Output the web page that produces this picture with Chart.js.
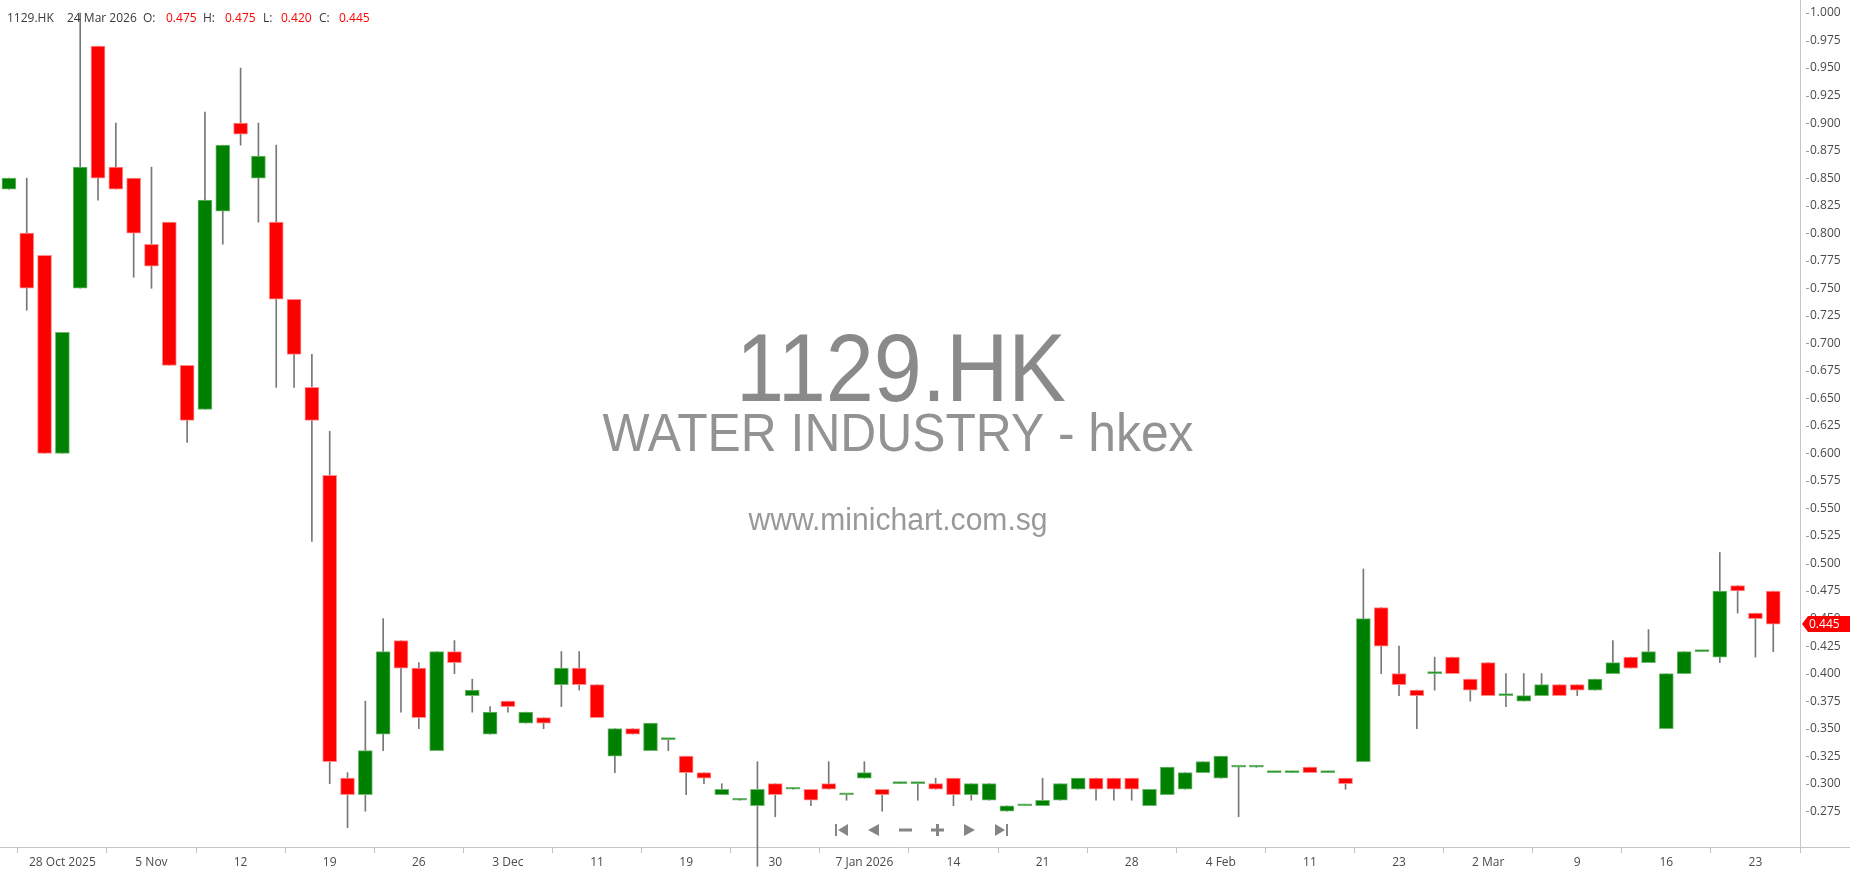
<!DOCTYPE html>
<html>
<head>
<meta charset="utf-8">
<title>1129.HK</title>
<script src="https://cdn.jsdelivr.net/npm/chart.js@4.4.1/dist/chart.umd.min.js"></script>
<style>
html,body{margin:0;padding:0;background:#ffffff;overflow:hidden;}
#wrap{position:relative;width:1850px;height:874px;}
</style>
</head>
<body>
<div id="wrap"><canvas id="c"></canvas></div>
<script>
// ---------- data ----------
const symbol = '1129.HK';
const company = 'WATER INDUSTRY - hkex';
const site = 'www.minichart.com.sg';

const dates = [
 '23 Oct 2025','24 Oct 2025','27 Oct 2025','28 Oct 2025','30 Oct 2025','31 Oct 2025',
 '3 Nov 2025','4 Nov 2025','5 Nov 2025','6 Nov 2025','7 Nov 2025','10 Nov 2025','11 Nov 2025','12 Nov 2025',
 '13 Nov 2025','14 Nov 2025','17 Nov 2025','18 Nov 2025','19 Nov 2025','20 Nov 2025','21 Nov 2025',
 '24 Nov 2025','25 Nov 2025','26 Nov 2025','27 Nov 2025','28 Nov 2025',
 '1 Dec 2025','2 Dec 2025','3 Dec 2025','4 Dec 2025','5 Dec 2025','8 Dec 2025','9 Dec 2025','11 Dec 2025',
 '12 Dec 2025','15 Dec 2025','16 Dec 2025','17 Dec 2025','19 Dec 2025','22 Dec 2025','23 Dec 2025',
 '24 Dec 2025','29 Dec 2025','30 Dec 2025','31 Dec 2025',
 '2 Jan 2026','5 Jan 2026','6 Jan 2026','7 Jan 2026','8 Jan 2026','9 Jan 2026','12 Jan 2026','13 Jan 2026',
 '14 Jan 2026','15 Jan 2026','16 Jan 2026','19 Jan 2026','20 Jan 2026','21 Jan 2026','22 Jan 2026',
 '23 Jan 2026','26 Jan 2026','27 Jan 2026','28 Jan 2026','29 Jan 2026','30 Jan 2026',
 '2 Feb 2026','3 Feb 2026','4 Feb 2026','5 Feb 2026','6 Feb 2026','9 Feb 2026','10 Feb 2026','11 Feb 2026',
 '12 Feb 2026','13 Feb 2026','16 Feb 2026','20 Feb 2026','23 Feb 2026','24 Feb 2026','25 Feb 2026',
 '26 Feb 2026','27 Feb 2026',
 '2 Mar 2026','3 Mar 2026','4 Mar 2026','5 Mar 2026','6 Mar 2026','9 Mar 2026','10 Mar 2026',
 '11 Mar 2026','12 Mar 2026','13 Mar 2026','16 Mar 2026','17 Mar 2026','18 Mar 2026','19 Mar 2026',
 '20 Mar 2026','23 Mar 2026','24 Mar 2026'
];

const open = [
 0.84,0.80,0.78,0.60,0.75,0.97,0.86,0.85,0.79,0.81,
 0.68,0.64,0.82,0.90,0.85,0.81,0.74,0.66,0.58,0.305,
 0.29,0.345,0.43,0.405,0.33,0.42,0.38,0.345,0.375,0.355,
 0.36,0.39,0.405,0.39,0.325,0.35,0.33,0.34,0.325,0.31,
 0.29,0.285,0.28,0.30,0.295,0.295,0.30,0.29,0.305,0.295,
 0.30,0.30,0.30,0.305,0.29,0.285,0.275,0.28,0.28,0.285,
 0.295,0.305,0.305,0.305,0.28,0.29,0.295,0.31,0.305,0.315,
 0.315,0.31,0.31,0.315,0.31,0.305,0.32,0.46,0.40,0.385,
 0.40,0.415,0.395,0.41,0.38,0.375,0.38,0.39,0.39,0.385,
 0.40,0.415,0.41,0.35,0.40,0.42,0.415,0.48,0.455,0.475
];
const high = [
 0.85,0.85,0.78,0.71,1.00,0.97,0.90,0.85,0.86,0.81,
 0.68,0.91,0.88,0.95,0.90,0.88,0.74,0.69,0.62,0.31,
 0.375,0.45,0.43,0.41,0.42,0.43,0.395,0.37,0.375,0.365,
 0.36,0.42,0.42,0.39,0.35,0.35,0.355,0.34,0.325,0.31,
 0.30,0.285,0.32,0.30,0.295,0.295,0.32,0.29,0.32,0.295,
 0.30,0.30,0.305,0.305,0.30,0.30,0.28,0.28,0.305,0.30,
 0.305,0.305,0.305,0.305,0.295,0.315,0.31,0.32,0.325,0.315,
 0.315,0.31,0.31,0.315,0.31,0.305,0.495,0.46,0.425,0.385,
 0.415,0.415,0.395,0.41,0.40,0.40,0.40,0.39,0.39,0.395,
 0.43,0.415,0.44,0.40,0.42,0.42,0.51,0.48,0.455,0.475
];
const low = [
 0.84,0.73,0.60,0.60,0.75,0.83,0.84,0.76,0.75,0.68,
 0.61,0.64,0.79,0.88,0.81,0.66,0.66,0.52,0.30,0.26,
 0.275,0.33,0.365,0.35,0.33,0.40,0.365,0.345,0.365,0.355,
 0.35,0.37,0.385,0.36,0.31,0.345,0.33,0.33,0.29,0.30,
 0.29,0.285,0.225,0.27,0.295,0.28,0.295,0.285,0.305,0.275,
 0.30,0.285,0.295,0.28,0.285,0.285,0.275,0.28,0.28,0.285,
 0.295,0.285,0.285,0.285,0.28,0.29,0.295,0.31,0.305,0.27,
 0.315,0.31,0.31,0.31,0.31,0.295,0.32,0.40,0.38,0.35,
 0.385,0.40,0.375,0.38,0.37,0.375,0.38,0.38,0.38,0.385,
 0.40,0.405,0.41,0.35,0.40,0.42,0.41,0.455,0.415,0.42
];
const close = [
 0.85,0.75,0.60,0.71,0.86,0.85,0.84,0.80,0.77,0.68,
 0.63,0.83,0.88,0.89,0.87,0.74,0.69,0.63,0.32,0.29,
 0.33,0.42,0.405,0.36,0.42,0.41,0.385,0.365,0.37,0.365,
 0.355,0.405,0.39,0.36,0.35,0.345,0.355,0.34,0.31,0.305,
 0.295,0.285,0.295,0.29,0.295,0.285,0.295,0.29,0.31,0.29,
 0.30,0.30,0.295,0.29,0.30,0.30,0.28,0.28,0.285,0.30,
 0.305,0.295,0.295,0.295,0.295,0.315,0.31,0.32,0.325,0.315,
 0.315,0.31,0.31,0.31,0.31,0.30,0.45,0.425,0.39,0.38,
 0.40,0.40,0.385,0.38,0.38,0.38,0.39,0.38,0.385,0.395,
 0.41,0.405,0.42,0.40,0.42,0.42,0.475,0.475,0.45,0.445
];

const tickIndex = [3,8,13,18,23,28,33,38,43,48,53,58,63,68,73,78,83,88,93,98];
const tickLabels = ['28 Oct 2025','5 Nov','12','19','26','3 Dec','11','19','30','7 Jan 2026',
                    '14','21','28','4 Feb','11','23','2 Mar','9','16','23'];
const yTicks = [0.275,0.300,0.325,0.350,0.375,0.400,0.425,0.450,0.475,0.500,0.525,0.550,0.575,
                0.600,0.625,0.650,0.675,0.700,0.725,0.750,0.775,0.800,0.825,0.850,0.875,0.900,
                0.925,0.950,0.975,1.000];

// ---------- styles ----------
const UP = '#008000', UP_EDGE = '#6fb86f';
const DOWN = '#ff0000', DOWN_EDGE = '#ff8c8c';
const WICK = '#777777';
const AXIS = '#c6c6c6';
const TEXT = '#4a4a4a';
const FONT = '"Open Sans", "Noto Sans", sans-serif';

const isUp = i => close[i] >= open[i];

const wickData = high.map((h, i) => ({x: i, y: [low[i], h]}));
const bodyData = close.map((c, i) => ({x: i, y: [open[i], c]}));

function stretchedText(ctx, text, cx, baseline, font, targetW, color) {
  ctx.save();
  ctx.font = font;
  const w = ctx.measureText(text).width;
  ctx.translate(cx, baseline);
  ctx.scale(targetW / w, 1);
  ctx.textAlign = 'center';
  ctx.textBaseline = 'alphabetic';
  ctx.fillStyle = color;
  ctx.fillText(text, 0, 0);
  ctx.restore();
}

const watermark = {
  id: 'watermark',
  beforeDatasetsDraw(chart) {
    const ctx = chart.ctx;
    const cx = (chart.chartArea.left + chart.chartArea.right) / 2;
    stretchedText(ctx, symbol, cx + 1, 401, '96px "Liberation Sans", Arial, sans-serif', 330, '#8a8a8a');
    stretchedText(ctx, company, cx - 2, 451, '53px "Liberation Sans", Arial, sans-serif', 591, '#939393');
    stretchedText(ctx, site, cx - 2, 530, '31px "Liberation Sans", Arial, sans-serif', 299, '#999999');
  }
};

const overlay = {
  id: 'overlay',
  afterDraw(chart) {
    const ctx = chart.ctx;
    const ys = chart.scales.y;
    const ca = chart.chartArea;
    ctx.save();
    // y tick dashes
    ctx.strokeStyle = '#9a9a9a';
    ctx.lineWidth = 1;
    yTicks.forEach(v => {
      const y = Math.round(ys.getPixelForValue(v)) + 0.5;
      ctx.beginPath(); ctx.moveTo(ca.right + 6, y); ctx.lineTo(ca.right + 9, y); ctx.stroke();
    });
    // extend x axis line under the price axis
    ctx.strokeStyle = AXIS;
    ctx.beginPath(); ctx.moveTo(ca.right, Math.round(ca.bottom) + 0.5); ctx.lineTo(chart.width, Math.round(ca.bottom) + 0.5); ctx.stroke();

    // last price tag
    const last = close.length - 1;
    const py = Math.round(ys.getPixelForValue(close[last]));
    ctx.fillStyle = '#ff0000';
    ctx.beginPath();
    ctx.moveTo(ca.right + 2, py);
    ctx.lineTo(ca.right + 8, py - 8);
    ctx.lineTo(chart.width, py - 8);
    ctx.lineTo(chart.width, py + 8);
    ctx.lineTo(ca.right + 8, py + 8);
    ctx.closePath();
    ctx.fill();
    ctx.fillStyle = '#ffffff';
    ctx.font = '12px ' + FONT;
    ctx.textAlign = 'left';
    ctx.textBaseline = 'middle';
    ctx.fillText(close[last].toFixed(3), ca.right + 9, py + 1);

    // header
    ctx.textBaseline = 'alphabetic';
    ctx.font = '12px ' + FONT;
    const hy = 22;
    const parts = [
      [symbol, 7, '#3a3a3a'],
      [dates[last], 67, '#3a3a3a'],
      ['O:', 143, '#3a3a3a'], [open[last].toFixed(3), 166, '#ff0000'],
      ['H:', 203, '#3a3a3a'], [high[last].toFixed(3), 225, '#ff0000'],
      ['L:', 263, '#3a3a3a'], [low[last].toFixed(3), 281, '#ff0000'],
      ['C:', 319, '#3a3a3a'], [close[last].toFixed(3), 339, '#ff0000']
    ];
    parts.forEach(([t, x, c]) => { ctx.fillStyle = c; ctx.fillText(t, x, hy); });

    // navigation buttons
    ctx.fillStyle = '#858585';
    const ny = 830, h = 6;
    ctx.fillRect(835, ny - h, 2, 2 * h);
    ctx.beginPath(); ctx.moveTo(838, ny); ctx.lineTo(848, ny - h); ctx.lineTo(848, ny + h); ctx.closePath(); ctx.fill();
    ctx.beginPath(); ctx.moveTo(868, ny); ctx.lineTo(879, ny - h); ctx.lineTo(879, ny + h); ctx.closePath(); ctx.fill();
    ctx.fillRect(899, ny - 1.5, 13, 3);
    ctx.fillRect(931, ny - 1.5, 13, 3);
    ctx.fillRect(936, ny - h, 3, 2 * h);
    ctx.beginPath(); ctx.moveTo(975, ny); ctx.lineTo(964, ny - h); ctx.lineTo(964, ny + h); ctx.closePath(); ctx.fill();
    ctx.beginPath(); ctx.moveTo(1005, ny); ctx.lineTo(995, ny - h); ctx.lineTo(995, ny + h); ctx.closePath(); ctx.fill();
    ctx.fillRect(1006, ny - h, 2, 2 * h);
    ctx.restore();
  }
};

new Chart(document.getElementById('c'), {
  type: 'bar',
  data: {
    datasets: [
      {
        label: 'wick',
        data: wickData,
        backgroundColor: WICK,
        barThickness: 1,
        grouped: false,
        order: 2,
        minBarLength: 1,
        clip: false
      },
      {
        label: 'body',
        data: bodyData,
        backgroundColor: c => isUp(c.dataIndex) ? UP : DOWN,
        borderColor: c => isUp(c.dataIndex) ? UP_EDGE : DOWN_EDGE,
        borderWidth: 1,
        borderSkipped: false,
        barThickness: 14,
        grouped: false,
        order: 1,
        minBarLength: 2
      }
    ]
  },
  options: {
    responsive: true,
    maintainAspectRatio: false,
    animation: false,
    devicePixelRatio: 1,
    layout: { padding: 0 },
    plugins: { legend: { display: false }, tooltip: { enabled: false } },
    scales: {
      x: {
        type: 'linear',
        min: -0.5,
        max: 100.5,
        offset: false,
        grid: { display: true, drawOnChartArea: false, drawTicks: true, tickLength: 6, tickColor: '#c0c0c0' },
        border: { display: true, color: AXIS },
        afterBuildTicks: s => { s.ticks = tickIndex.map(v => ({ value: v })); },
        ticks: {
          autoSkip: false, maxRotation: 0, minRotation: 0,
          callback: v => { const k = tickIndex.indexOf(v); return k >= 0 ? tickLabels[k] : ''; },
          color: TEXT, font: { family: FONT, size: 12 }, padding: 2
        },
        afterFit: s => { s.height = 27; s.paddingLeft = 0; s.paddingRight = 0; }
      },
      y: {
        type: 'linear',
        position: 'right',
        min: 0.24251,
        max: 1.01181,
        grid: { display: true, drawOnChartArea: false, drawTicks: false },
        border: { display: true, color: AXIS },
        afterBuildTicks: s => { s.ticks = yTicks.map(v => ({ value: v })); },
        ticks: {
          autoSkip: false,
          callback: v => Number(v).toFixed(3),
          color: TEXT, font: { family: FONT, size: 12 }, padding: 10
        },
        afterFit: s => { s.width = 50; s.paddingTop = 0; s.paddingBottom = 0; }
      }
    }
  },
  plugins: [watermark, overlay]
});
</script>
</body>
</html>
